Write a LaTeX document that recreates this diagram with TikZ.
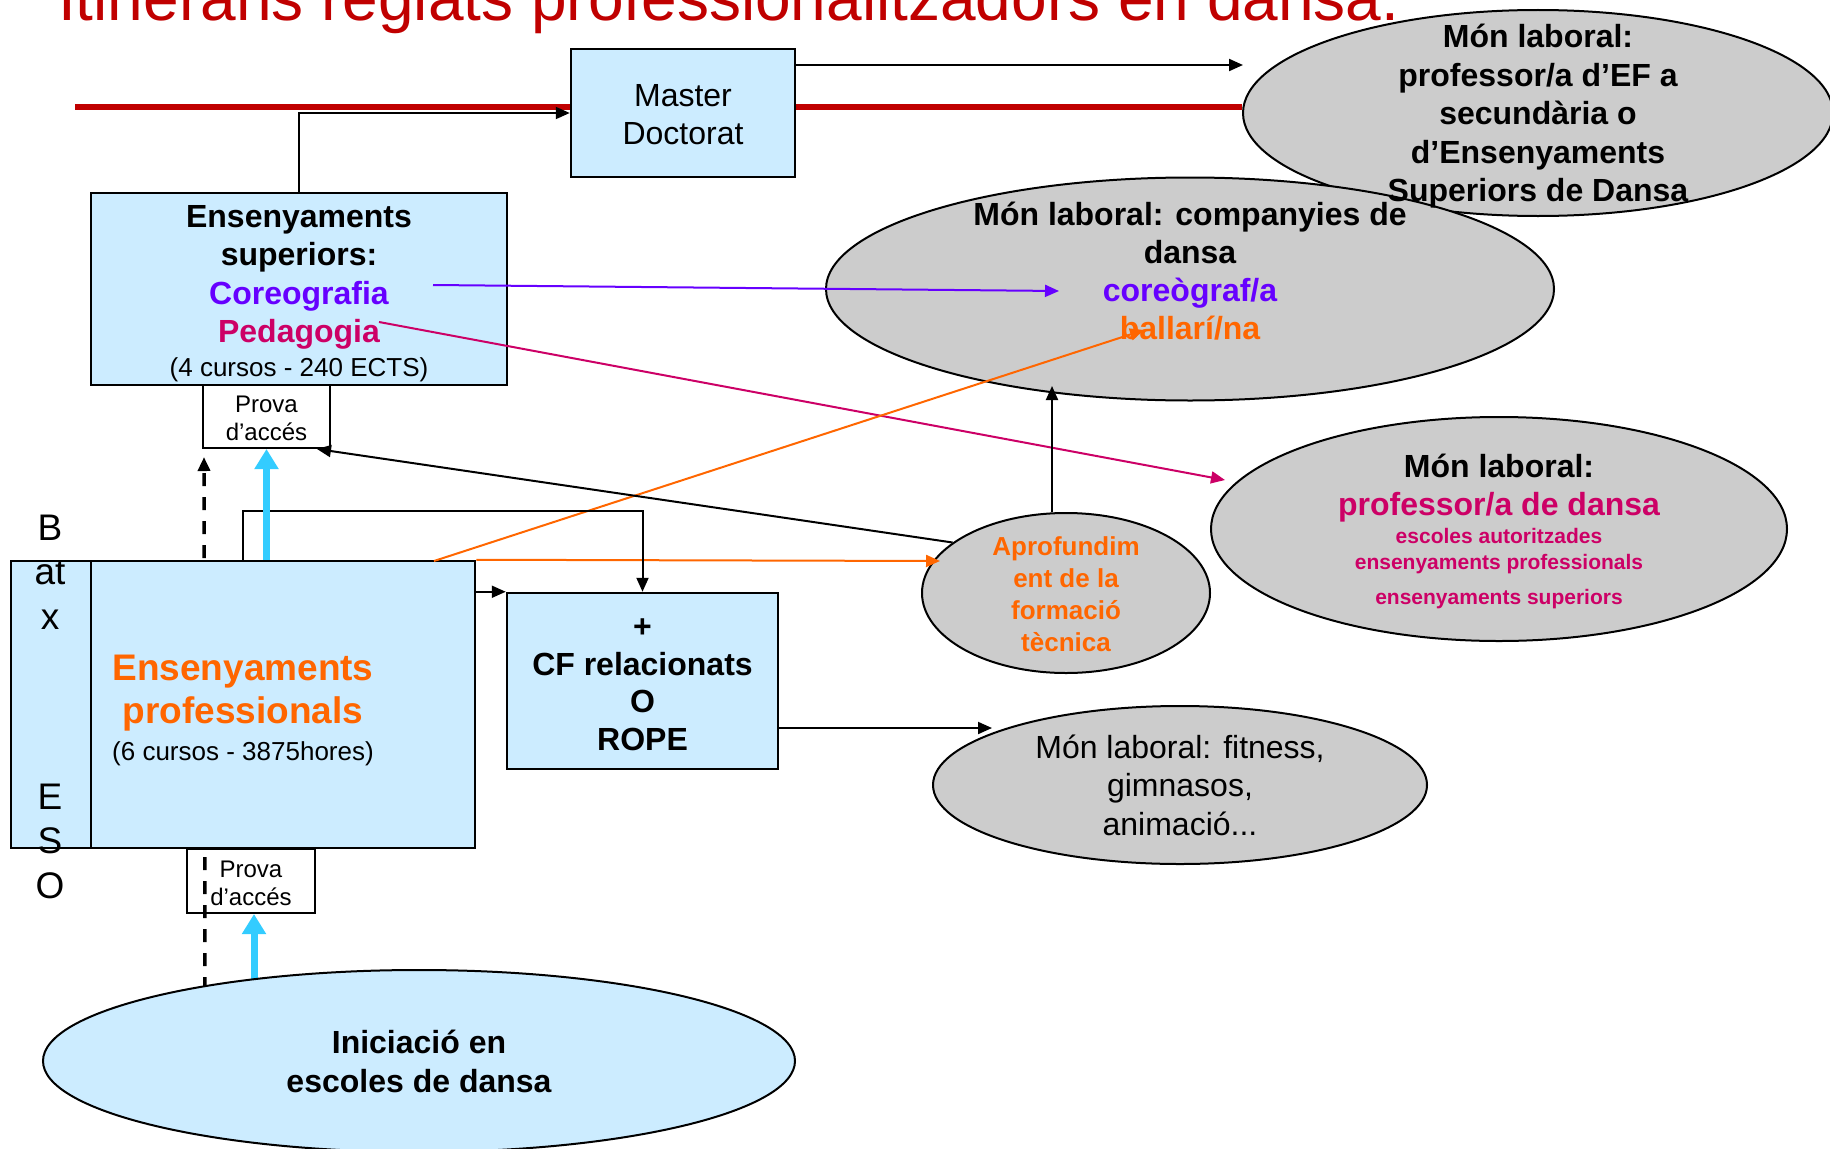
\documentclass[tikz,border=0pt]{standalone}
\usepackage{fontspec}
\setmainfont{Liberation Sans}
\usepackage{xcolor}
\usepackage{tikz}
\usetikzlibrary{shapes.geometric, arrows.meta}
\definecolor{boxblue}{RGB}{204,236,255}
\definecolor{ellgray}{RGB}{204,204,204}
\definecolor{titlered}{RGB}{192,0,0}
\definecolor{coreo}{RGB}{102,0,255}
\definecolor{pedag}{RGB}{204,0,102}
\definecolor{taronja}{RGB}{255,102,0}
\definecolor{cel}{RGB}{51,204,255}
\newcommand{\mida}[2]{\fontsize{#1pt}{#2pt}\selectfont}
\newcommand{\baixa}[1]{\rule{0pt}{#1pt}}
\begin{document}
\begin{tikzpicture}[x=1pt, y=-1pt, >={Triangle[length=14pt,width=12pt]}]
	\tikzstyle{caixa}=[draw=black, line width=2.5pt, fill=boxblue, inner sep=0pt, align=center]
	\tikzstyle{prova}=[draw=black, line width=2pt, fill=white, inner sep=0pt, align=center, font=\mida{24}{28}, minimum width=127pt, minimum height=63pt]
	\tikzstyle{oval}=[ellipse, draw=black, line width=2pt, fill=ellgray, inner sep=0pt]
	\tikzstyle{txt}=[align=center, inner sep=0pt]
	\tikzstyle{arr}=[->, line width=2pt]
	\tikzstyle{cyanarr}=[-{Triangle[length=20pt,width=23pt]}, line width=7pt, cel]
	\tikzstyle{dasharr}=[->, line width=3.5pt, dash pattern=on 13pt off 11pt]
	\useasboundingbox (0,0) rectangle (1830,1148);
	\node[anchor=base west, inner sep=0pt, text=titlered, font=\mida{64}{70}] (title) at (58,21) {Itinerans reglats professionalitzadors en dansa.};
	\node[oval, minimum width=590pt, minimum height=206pt] (ef) at (1538,113) {};
	\node[oval, minimum width=728pt, minimum height=223pt] (comp) at (1190,289) {};
	\coordinate (redStart) at (75,107);
	\draw[titlered, line width=6pt] (redStart) -- (redStart -| ef.west);
	\node[caixa, minimum width=224pt, minimum height=128pt, font=\mida{32}{38.5}] (master) at (683,113) {\baixa{25}Master\\Doctorat};
	\node[caixa, minimum width=416pt, minimum height=192pt, font=\bfseries\mida{32}{38.5}] (sup) at (299,289) {\baixa{31}Ensenyaments\\superiors:\\\color{coreo}Coreografia\\\color{pedag}Pedagogia\\[-4.5pt]\mdseries\mida{26}{30}(4 cursos - 240 ECTS)};
	\draw[arr] (sup.north) |- (master.west);
	\node[txt, font=\bfseries\mida{32}{38.5}] (efText) at ([yshift=-3.5pt]ef.center) {Món laboral:\\professor/a d’EF a\\secundària o\\d’Ensenyaments\\Superiors de Dansa};
	\node[txt, font=\bfseries\mida{32}{38}] (compText) at (1190,271) {Món laboral: companyies de\\dansa\\\color{coreo}coreògraf/a\\\color{taronja}ballarí/na};
	\node[oval, minimum width=288pt, minimum height=160pt] (aprof) at (1066,593) {};
	\node[txt, text=taronja, font=\bfseries\mida{26}{32}] (aprofText) at ([yshift=-1pt]aprof.center) {Aprofundim\\ent de la\\formació\\tècnica};
	\node[oval, minimum width=576pt, minimum height=224pt] (ped) at (1499,529) {};
	\node[txt, font=\bfseries\mida{32}{38}] (pedText) at ([yshift=-2.5pt]ped.center) {Món laboral:\\\color{pedag}professor/a de dansa\\[-9.4pt]\color{pedag}\mida{21}{25}escoles autoritzades\\[-12pt]\color{pedag}\mida{21}{25}ensenyaments professionals\\[-3pt]\color{pedag}\mida{21}{25}ensenyaments superiors};
	\node[oval, minimum width=494pt, minimum height=158pt] (fit) at (1180,785) {};
	\node[txt, font=\mida{32}{38.5}] (fitText) at (fit) {Món laboral: fitness,\\gimnasos,\\animació...};
	\node[prova, minimum width=128pt, minimum height=64pt] (prova2) at (251,881) {\baixa{21}Prova\\d’accés};
	\coordinate (dashStart) at (205,990);
	\coordinate (iniTop) at (254,985);
	\node[prova] (prova1) at (266.5,416.5) {\baixa{21}Prova\\d’accés};
	\draw[dasharr] (dashStart) -- ([xshift=2pt, yshift=-8pt]prova1.south west);
	\draw[cyanarr] (iniTop) -- (iniTop |- prova2.south);
	\node[oval, fill=boxblue, minimum width=752pt, minimum height=182pt] (ini) at (419,1061) {};
	\node[txt, font=\bfseries\mida{32}{39}] (iniText) at (ini) {Iniciació en\\escoles de dansa};
	\node[caixa, minimum width=464pt, minimum height=287pt, font=\bfseries\mida{37}{43}] (prof) at (243,704.5) {\baixa{37}\color{taronja}Ensenyaments\\\color{taronja}professionals\\[-6.5pt]\mdseries\mida{26}{30}(6 cursos - 3875hores)};
	\node[caixa, minimum width=80pt, minimum height=287pt] (batx) at (51,704.5) {};
	\node[txt, font=\mida{37}{44.5}] (batxText) at (50,572) {B\\at\\x};
	\node[txt, font=\mida{37}{44.5}] (esoText) at (50,841) {E\\S\\O};
	\node[caixa, minimum width=271pt, minimum height=176pt, font=\bfseries\mida{32}{37.7}] (cf) at (642.5,681) {\baixa{26}+\\CF relacionats\\O\\ROPE};
	\coordinate (efIn) at (1243,65);
	\coordinate (coreoStart) at (433,285);
	\coordinate (coreoEnd) at (1059,291);
	\coordinate (pedStart) at (379,322);
	\coordinate (pedEnd) at (1225,480);
	\coordinate (ballStart) at (434,561);
	\coordinate (ballEnd) at (1144,330);
	\coordinate (aprofIn) at (940,561);
	\coordinate (compBot) at (1052,386);
	\coordinate (fitIn) at (992,728);
	\draw[arr] (master.east |- efIn) -- (efIn);
	\draw[arr, coreo] (coreoStart) -- (coreoEnd);
	\draw[arr, pedag] (pedStart) -- (pedEnd);
	\draw[arr, taronja] (ballStart) -- (ballEnd);
	\draw[arr, taronja] (prof.north east) -- (aprofIn);
	\draw[arr] (aprof.156) -- ([xshift=-14pt]prova1.south east);
	\draw[arr] ([xshift=-14pt]aprof.north) -- (compBot);
	\draw[arr] (prof.north) -- ++(0,-49) -| (cf.north);
	\draw[arr] (prof.east |- cf.north west) -- (cf.north west);
	\draw[arr] (cf.east |- fitIn) -- (fitIn);
	\draw[cyanarr] (prof.north -| prova1.south) -- (prova1.south);
\end{tikzpicture}
\end{document}
